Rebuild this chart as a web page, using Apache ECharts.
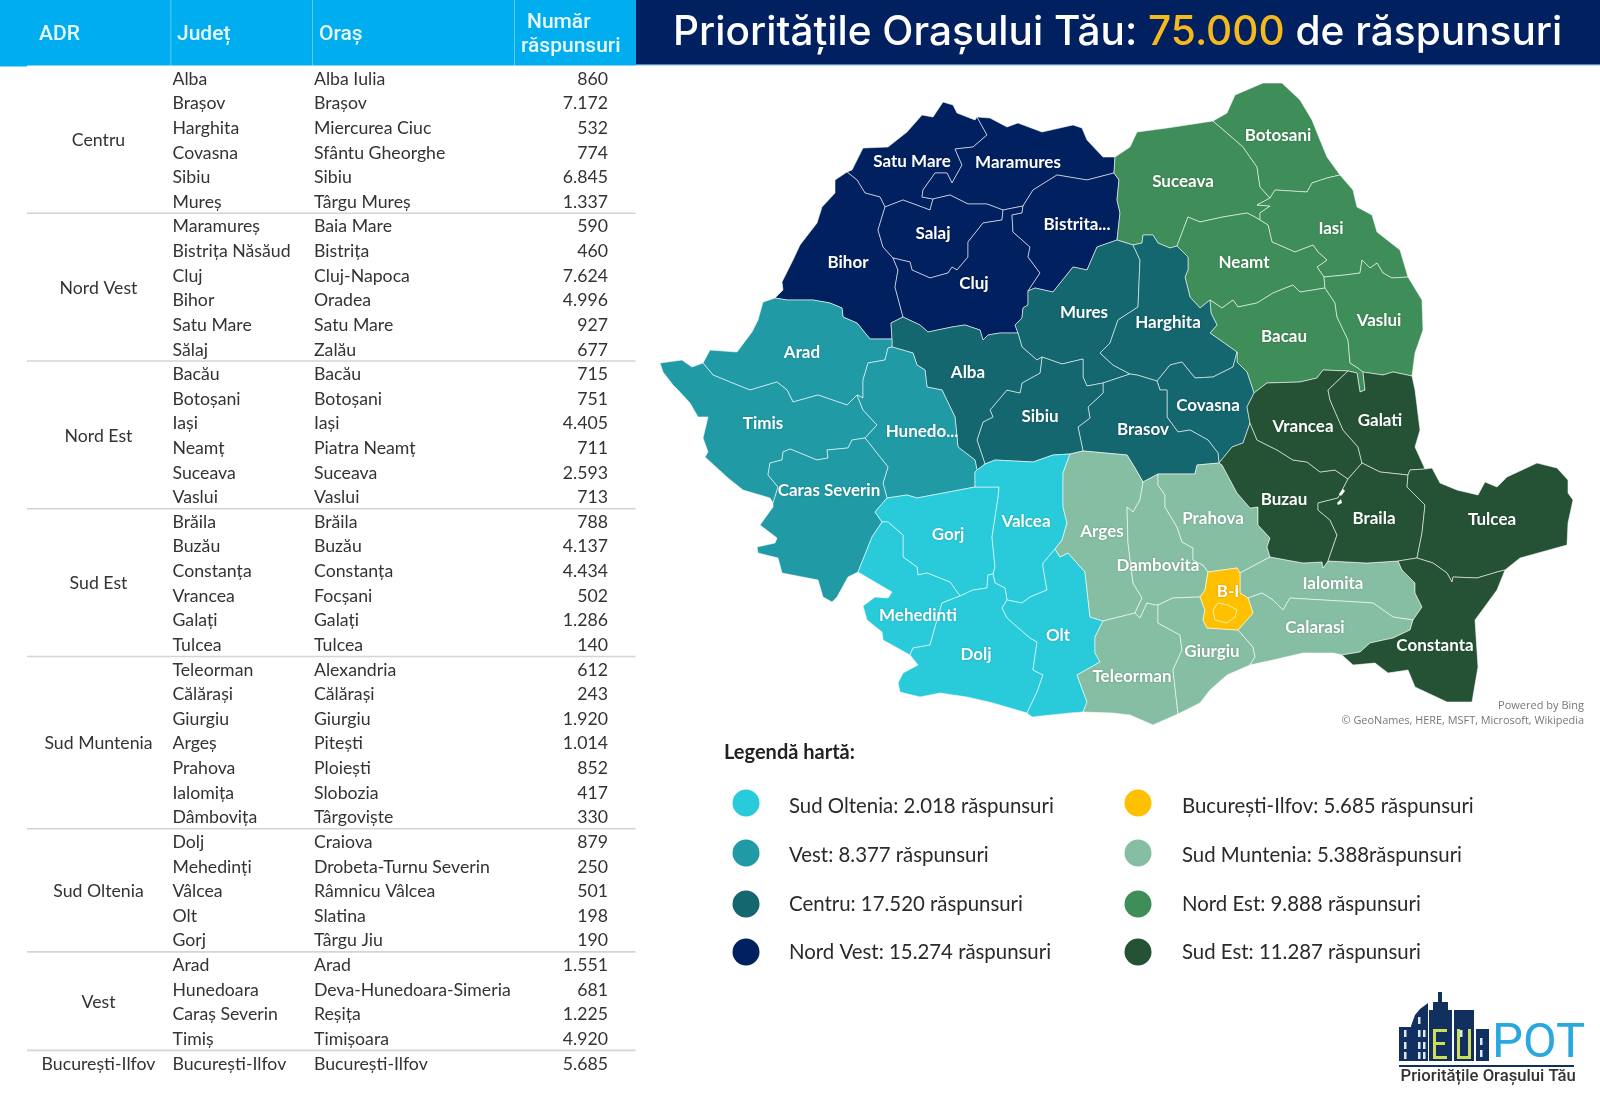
<!DOCTYPE html>
<html><head><meta charset="utf-8">
<style>html,body{margin:0;padding:0;background:#fff}#c{width:1600px;height:1108px}</style>
<script src="https://cdn.jsdelivr.net/npm/echarts@6/dist/echarts.min.js"></script>
</head><body><div id="c"></div>
<script>
// ---------- table data ----------
const adrGroups = ['Centru','Nord Vest','Nord Est','Sud Est','Sud Muntenia','Sud Oltenia','Vest','București-Ilfov'];
const adrRowCounts = [6,6,6,6,7,5,4,1];
const judete = ['Alba','Brașov','Harghita','Covasna','Sibiu','Mureș','Maramureș','Bistrița Năsăud','Cluj','Bihor','Satu Mare','Sălaj','Bacău','Botoșani','Iași','Neamț','Suceava','Vaslui','Brăila','Buzău','Constanța','Vrancea','Galați','Tulcea','Teleorman','Călărași','Giurgiu','Argeș','Prahova','Ialomița','Dâmbovița','Dolj','Mehedinți','Vâlcea','Olt','Gorj','Arad','Hunedoara','Caraș Severin','Timiș','București-Ilfov'];
const orase = ['Alba Iulia','Brașov','Miercurea Ciuc','Sfântu Gheorghe','Sibiu','Târgu Mureș','Baia Mare','Bistrița','Cluj-Napoca','Oradea','Satu Mare','Zalău','Bacău','Botoșani','Iași','Piatra Neamț','Suceava','Vaslui','Brăila','Buzău','Constanța','Focșani','Galați','Tulcea','Alexandria','Călărași','Giurgiu','Pitești','Ploiești','Slobozia','Târgoviște','Craiova','Drobeta-Turnu Severin','Râmnicu Vâlcea','Slatina','Târgu Jiu','Arad','Deva-Hunedoara-Simeria','Reșița','Timișoara','București-Ilfov'];
const raspunsuri = [860,7172,532,774,6845,1337,590,460,7624,4996,927,677,715,751,4405,711,2593,713,788,4137,4434,502,1286,140,612,243,1920,1014,852,417,330,879,250,501,198,190,1551,681,1225,4920,5685];
const headerLabels = ['ADR','Județ','Oraș','Număr','răspunsuri'];
// ---------- legend data ----------
const legendTitle = 'Legendă hartă:';
const legendLabels = ['Sud Oltenia: 2.018 răspunsuri','Vest: 8.377 răspunsuri','Centru: 17.520 răspunsuri','Nord Vest: 15.274 răspunsuri','București-Ilfov: 5.685 răspunsuri','Sud Muntenia: 5.388răspunsuri','Nord Est: 9.888 răspunsuri','Sud Est: 11.287 răspunsuri'];
const legendRegions = ['Sud Oltenia','Vest','Centru','Nord Vest','București-Ilfov','Sud Muntenia','Nord Est','Sud Est'];
const regionColors = {'Sud Oltenia':'#29cbdb','Vest':'#209ba6','Centru':'#14666f','Nord Vest':'#002060','București-Ilfov':'#ffc000','Sud Muntenia':'#86bea3','Nord Est':'#3f8d58','Sud Est':'#255235'};
// ---------- map shapes: shared county borders, in the map's own units ----------
const arcs = {
smO:'847,172 852,170 863,148 888,147 907,132 922,115 933,117 943,102 953,105 957,113 975,120 977,117',
SM_MM:'977,117 987,135 973,147 955,149 962,165 952,183 947,173 935,173 923,190 922,197 933,199',
SM_SJ:'933,199 930,210 903,200 885,207',
SM_BH:'885,207 880,197 865,193 857,180 847,172',
mmO:'977,117 990,118 1007,127 1018,123 1042,132 1073,125 1082,128 1087,140 1103,157 1115,157',
MM_SV:'1115,157 1114,173',
MM_BN:'1114,173 1087,180 1057,175 1033,190 1023,206',
MM_CJ:'1023,206 1003,210',
MM_SJ:'1003,210 987,204 968,204 950,195 933,199',
bhO:'775,298 783,290 782,282 793,260 800,245 817,223 822,207 835,193 835,180 847,172',
BH_SJ:'885,207 878,230 883,247 893,258',
BH_CJ:'893,258 898,270 895,287 903,317',
BH_AB:'903,317 891,323 892,339',
BH_AR:'892,339 870,339 857,323 843,317 842,308 830,303 813,300 787,300 775,298',
SJ_CJ:'893,258 910,262 912,270 930,278 948,273 952,267 957,270 968,257 968,242 983,223 1002,220 1003,210',
CJ_BN:'1023,206 1022,213 1012,215 1013,232 1030,247 1028,257 1040,273 1028,291',
CJ_MS:'1028,291 1028,305 1023,308 1022,318 1015,325 1018,333',
CJ_AB:'1018,333 1000,333 988,335 983,340 980,330 965,325 952,327 928,332 920,325 903,317',
BN_SV:'1114,173 1119,180 1117,200 1120,213 1117,240',
BN_MS:'1117,240 1097,247 1087,270 1073,267 1053,292 1035,288 1028,291',
svO:'1115,157 1130,147 1137,132 1167,128 1213,121',
SV_BT:'1213,121 1227,133 1243,147 1257,167 1260,187 1270,198',
SV_IS:'1270,198 1257,205 1270,206 1260,213 1260,220',
SV_NT:'1260,220 1255,217 1247,213 1223,217 1200,222 1188,217 1177,246',
SV_HR:'1177,246 1170,248 1158,243 1153,235 1143,235 1142,243 1133,245',
SV_MS:'1133,245 1117,240',
MS_HR:'1133,245 1140,260 1138,307 1118,320 1110,343 1100,353 1113,365 1130,374',
MS_BV:'1130,374 1103,383',
MS_SB:'1103,383 1087,386 1083,377 1083,359 1062,364 1042,357',
AB_MS:'1042,357 1037,360 1022,347 1018,333',
HR_NT:'1177,246 1188,257 1188,270 1185,277 1190,297 1200,308 1210,300',
HR_BC:'1210,300 1211,313 1217,325 1210,333 1237,352',
HR_CV:'1237,352 1233,367 1213,377 1195,378 1182,362 1170,365 1157,381',
HR_BV:'1157,381 1137,375 1130,374',
CV_BC:'1237,352 1237,362 1247,372 1254,393',
CV_VN:'1254,393 1247,407 1250,423',
CV_BZ:'1250,423 1243,443 1232,447 1219,463',
CV_BV:'1157,381 1160,390 1167,390 1167,417 1178,432 1190,430 1208,440 1218,453 1219,463',
BV_PH:'1219,463 1197,465 1195,474 1158,474',
BV_DB:'1158,474 1143,482',
BV_AG:'1143,482 1135,468 1127,455 1083,451',
BV_SB:'1083,451 1078,427 1090,418 1088,407 1103,393 1103,383',
SB_AG:'1083,451 1070,454',
SB_VL:'1070,454 1053,455 1033,462 995,460 985,464',
AB_SB:'985,464 977,440 983,422 993,417 990,410 1007,390 1020,393 1022,383 1040,373 1042,357',
AB_VL:'985,464 977,470',
AB_HD:'977,470 975,460 958,447 955,417 942,390 927,387 925,370 917,365 913,353 892,347',
AB_AR:'892,347 892,339',
AR_HD:'892,347 888,348 885,360 868,363 863,380 863,398 857,395',
AR_TM:'857,395 847,405 818,395 793,402 787,390 777,382 750,390 730,382 713,375 703,363',
arO:'703,363 710,350 737,352 752,332 758,320 763,302 775,298',
TM_HD:'857,395 863,410 877,425 865,438',
TM_CS:'865,438 852,440 848,448 827,450 828,458 817,460 790,449 783,452 782,460 770,463 768,475 778,487 773,503',
tmO:'773,503 770,498 743,490 728,478 705,457 708,452 703,438 708,417 698,417 690,403 678,390 673,385 663,372 660,363 682,360 692,367 703,363',
CS_HD:'865,438 888,467 883,483 887,498',
HD_GJ:'887,498 907,495 917,498 975,487',
HD_VL:'975,487 975,472 977,470',
CS_GJ:'887,498 875,512 882,522',
CS_MH:'882,522 872,537 858,572',
csO:'858,572 848,577 837,597 832,602 823,597 818,580 782,573 778,558 758,553 757,547 775,543 777,538 760,525 773,507 773,503',
GJ_MH:'882,522 888,522 903,535 903,557 917,567 918,575 927,573 950,582 960,596',
GJ_DJ:'960,596 973,590 987,588 988,575 993,574',
GJ_VL:'975,487 999,487 998,498 992,537 995,567 993,574',
VL_DJ:'993,574 995,583 1005,588 1007,600',
VL_OT:'1007,600 1022,603 1030,597 1047,590 1043,567 1043,563 1055,549',
VL_AG:'1070,454 1063,473 1063,507 1067,523 1062,540 1055,549',
OT_AG:'1055,549 1060,557 1068,553 1085,572 1090,617 1103,621',
DJ_OT:'1007,600 1002,608 1007,618 1030,638 1037,642 1033,670 1043,675 1037,692 1027,713',
OT_TR:'1103,621 1095,637 1095,653 1100,662 1077,675 1087,702 1083,712',
otO:'1083,712 1070,713 1032,717 1027,713',
djO:'1027,713 993,703 967,697 940,693 920,697 900,692 898,683 903,673 918,665 910,655',
DJ_MH:'960,596 942,603 937,620 930,645 913,648 910,655',
mhO:'910,655 883,640 882,632 867,620 863,606 875,597 888,598 892,592 880,585 858,572',
AG_TR:'1103,621 1135,613',
AG_DB:'1143,482 1140,500 1133,512 1127,507 1128,543 1133,583 1142,598 1135,613',
DB_TR:'1135,613 1140,618 1147,603 1155,605 1158,605',
DB_GR:'1158,605 1173,598 1200,597',
TR_GR:'1158,605 1158,623 1180,635 1182,650 1173,670 1178,714',
trO:'1178,714 1153,725 1130,715 1112,713 1083,712',
grO:'1178,714 1200,703 1210,690 1227,675 1250,665',
PH_DB:'1158,474 1158,485 1165,495 1165,507 1177,527 1182,542 1193,548 1193,560 1203,565 1208,572',
BI_DB:'1208,572 1207,578 1205,590 1200,597',
BI_GR:'1200,597 1205,610 1203,620 1207,628 1238,630',
BI_CL:'1238,630 1253,613 1248,598',
BI_IL:'1248,598 1240,593 1240,577 1240,573',
BI_PH:'1240,573 1237,568 1208,572',
PH_IL:'1240,573 1270,557',
PH_BZ:'1270,557 1267,547 1270,538 1258,525 1258,507 1250,508 1237,493 1222,465 1219,463',
GR_CL:'1238,630 1253,647 1255,657 1250,665',
IL_CL:'1248,598 1262,593 1273,600 1283,610 1290,598 1323,600 1357,602 1373,603 1393,617 1413,620',
BZ_IL:'1270,557 1303,563 1322,562 1323,568 1328,561',
BR_IL:'1328,561 1367,563 1398,561',
IL_CT:'1398,561 1402,570 1415,583 1415,593 1422,607 1413,620',
CL_CT:'1413,620 1410,630 1393,638 1370,643 1360,652 1342,655',
clO:'1342,655 1333,653 1303,653 1273,660 1250,665',
BZ_BR:'1328,561 1337,535 1330,520 1318,510 1318,503 1338,498 1348,479',
VN_BZ:'1250,423 1257,440 1277,450 1293,460 1307,462 1320,472 1335,470 1348,479',
VN_BR:'1348,479 1362,463',
VN_GL:'1362,463 1358,447 1343,430 1330,400 1328,390 1348,371',
BC_VN:'1254,393 1267,383 1300,382 1317,378 1323,370 1348,371',
BC_GL:'1348,371 1357,373 1360,392 1365,390 1363,372',
BC_VS:'1363,372 1358,368 1350,363 1348,340 1337,317 1335,303 1325,288',
VS_GL:'1363,372 1383,375 1393,372 1412,376',
glO:'1412,376 1415,390 1420,430 1415,447 1425,469',
GL_TL:'1425,469 1410,470 1408,475',
GL_BR:'1408,475 1380,472 1362,463',
BR_TL:'1408,475 1407,487 1425,505 1422,533 1417,558',
BR_CT:'1417,558 1398,561',
CT_TL:'1417,558 1433,563 1447,573 1452,582 1453,577 1477,578 1497,572 1505,570',
tlO:'1505,570 1520,558 1567,545 1568,523 1573,500 1568,493 1568,480 1557,468 1537,463 1507,477 1497,487 1485,482 1478,495 1457,490 1440,483 1432,468 1425,469',
ctO:'1505,570 1497,590 1475,620 1478,667 1472,702 1447,702 1415,687 1408,670 1388,673 1375,663 1353,665 1342,655',
btO:'1213,121 1227,113 1235,95 1263,83 1282,83 1300,100 1312,120 1320,140 1327,157 1340,175',
BT_IS:'1340,175 1327,178 1312,183 1307,192 1275,190 1270,198',
isO:'1340,175 1353,190 1357,207 1372,215 1377,232 1400,250 1408,277',
IS_VS:'1408,277 1392,278 1383,273 1377,263 1370,268 1362,260 1360,273 1345,275 1324,277',
NT_IS:'1324,277 1317,267 1327,260 1318,252 1313,245 1295,252 1272,242 1268,225 1260,220',
NT_VS:'1324,277 1325,288',
NT_BC:'1325,288 1313,290 1300,292 1293,285 1273,293 1257,303 1238,307 1233,300 1222,308 1210,300',
vsO:'1408,277 1422,300 1423,330 1415,353 1412,376'
};
const countyNames = ['Satu Mare','Maramures','Bihor','Salaj','Cluj','Bistrita...','Suceava','Botosani','Iasi','Neamt','Bacau','Vaslui','Mures','Harghita','Covasna','Brasov','Sibiu','Alba','Arad','Timis','Hunedo...','Caras Severin','Gorj','Valcea','Mehedinti','Dolj','Olt','Arges','Dambovita','Prahova','Teleorman','Giurgiu','Ialomita','Calarasi','Buzau','Vrancea','Galati','Braila','Tulcea','Constanta','B-I'];
const countyRegions = ['Nord Vest','Nord Vest','Nord Vest','Nord Vest','Nord Vest','Nord Vest','Nord Est','Nord Est','Nord Est','Nord Est','Nord Est','Nord Est','Centru','Centru','Centru','Centru','Centru','Centru','Vest','Vest','Vest','Vest','Sud Oltenia','Sud Oltenia','Sud Oltenia','Sud Oltenia','Sud Oltenia','Sud Muntenia','Sud Muntenia','Sud Muntenia','Sud Muntenia','Sud Muntenia','Sud Muntenia','Sud Muntenia','Sud Est','Sud Est','Sud Est','Sud Est','Sud Est','Sud Est','București-Ilfov'];
const countyTableRows = ['Satu Mare','Maramureș','Bihor','Sălaj','Cluj','Bistrița Năsăud','Suceava','Botoșani','Iași','Neamț','Bacău','Vaslui','Mureș','Harghita','Covasna','Brașov','Sibiu','Alba','Arad','Timiș','Hunedoara','Caraș Severin','Gorj','Vâlcea','Mehedinți','Dolj','Olt','Argeș','Dâmbovița','Prahova','Teleorman','Giurgiu','Ialomița','Călărași','Buzău','Vrancea','Galați','Brăila','Tulcea','Constanța','București-Ilfov'];
const countyRings = ['smO SM_MM SM_SJ SM_BH','mmO MM_SV MM_BN MM_CJ MM_SJ SM_MM','bhO SM_BH BH_SJ BH_CJ BH_AB BH_AR','SM_SJ MM_SJ SJ_CJ BH_SJ','SJ_CJ MM_CJ CJ_BN CJ_MS CJ_AB BH_CJ','MM_BN BN_SV BN_MS CJ_BN','svO SV_BT SV_IS SV_NT SV_HR SV_MS BN_SV MM_SV','btO BT_IS SV_BT','BT_IS isO IS_VS NT_IS SV_IS','SV_NT NT_IS NT_VS NT_BC HR_NT','NT_BC BC_VS BC_GL BC_VN CV_BC HR_BC','IS_VS vsO VS_GL BC_VS NT_VS','BN_MS SV_MS MS_HR MS_BV MS_SB AB_MS CJ_MS','SV_HR HR_NT HR_BC HR_CV HR_BV MS_HR','HR_CV CV_BC CV_VN CV_BZ CV_BV','MS_BV HR_BV CV_BV BV_PH BV_DB BV_AG BV_SB','MS_SB BV_SB SB_AG SB_VL AB_SB','CJ_AB AB_MS AB_SB AB_VL AB_HD AB_AR BH_AB','arO BH_AR AB_AR AR_HD AR_TM','AR_TM TM_HD TM_CS tmO','AB_HD HD_VL HD_GJ CS_HD TM_HD AR_HD','TM_CS CS_HD CS_GJ CS_MH csO','HD_GJ GJ_VL GJ_DJ GJ_MH CS_GJ','AB_VL SB_VL VL_AG VL_OT VL_DJ GJ_VL HD_VL','CS_MH GJ_MH DJ_MH mhO','GJ_DJ VL_DJ DJ_OT djO DJ_MH','VL_OT OT_AG OT_TR otO DJ_OT','SB_AG BV_AG AG_DB AG_TR OT_AG VL_AG','BV_DB PH_DB BI_DB DB_GR DB_TR AG_DB','BV_PH PH_BZ PH_IL BI_PH PH_DB','AG_TR DB_TR TR_GR trO OT_TR','DB_GR BI_GR GR_CL grO TR_GR','PH_IL BZ_IL BR_IL IL_CT IL_CL BI_IL','BI_CL IL_CL CL_CT clO GR_CL','VN_BZ BZ_BR BZ_IL PH_BZ CV_BZ','BC_VN VN_GL VN_BR VN_BZ CV_VN','VS_GL glO GL_TL GL_BR VN_GL BC_GL','VN_BR GL_BR BR_TL BR_CT BR_IL BZ_BR','tlO GL_TL BR_TL CT_TL','BR_CT CT_TL ctO CL_CT IL_CT','BI_PH BI_IL BI_CL BI_GR BI_DB'];
const labelAnchors = [[912,162],[1018,163],[848,263],[933,234],[974,284],[1077,225],[1183,182],[1278,136],[1331,229],[1244,263],[1284,337],[1379,321],[1084,313],[1168,323],[1208,406],[1143,430],[1040,417],[968,373],[802,353],[763,424],[922,432],[829,491],[948,535],[1026,522],[918,616],[976,655],[1058,636],[1102,532],[1158,566],[1213,519],[1132,677],[1212,652],[1333,584],[1315,628],[1284,500],[1303,427],[1380,421],[1374,519],[1492,520],[1435,646],[1228,592]];
const bucharestRing = '1213,610 1218,603 1228,605 1237,610 1235,617 1227,623 1215,620 1213,610';
const danubeIslands = ['1337,503 1341,499 1342,503 1338,505','1339,494 1343,489 1345,491 1341,496'];

// ---------- build geometry ----------
const parseArc = s => s.split(' ').map(p => p.split(',').map(Number));
const parsedArcs = {}; Object.keys(arcs).forEach(k => parsedArcs[k] = parseArc(arcs[k]));
const same = (a,b) => a[0]===b[0] && a[1]===b[1];
function ringOf(names){
  const list = names.split(' ').map(n => { if(!parsedArcs[n]) console.error('missing arc '+n); return parsedArcs[n]; });
  let out = [];
  list.forEach((a,i) => {
    let pts = a;
    if(i===0){
      const nx = list[1];
      if(!(same(a[a.length-1],nx[0]) || same(a[a.length-1],nx[nx.length-1]))) pts = a.slice().reverse();
    } else {
      const end = out[out.length-1];
      if(same(a[a.length-1],end)) pts = a.slice().reverse();
      else if(!same(a[0],end)) console.error('ring gap '+names+' at '+i);
    }
    out = out.concat(i===0 ? pts : pts.slice(1));
  });
  return out.map(p => [p[0],-p[1]]);
}
const features = countyNames.map((n,i) => ({type:'Feature',properties:{name:n,cp:[labelAnchors[i][0],-labelAnchors[i][1]]},geometry:{type:'Polygon',coordinates:[ringOf(countyRings[i])]}}));
features.push({type:'Feature',properties:{name:'București',cp:[1226,-612]},geometry:{type:'Polygon',coordinates:[parseArc(bucharestRing).map(p=>[p[0],-p[1]])]}});
echarts.registerMap('ro',{type:'FeatureCollection',features});

const mapData = countyNames.map((n,i) => ({name:n,value:raspunsuri[judete.indexOf(countyTableRows[i])],itemStyle:{areaColor:regionColors[countyRegions[i]]}}));
mapData.push({name:'București',value:0,itemStyle:{areaColor:regionColors['București-Ilfov'],borderColor:'rgba(255,255,255,0.75)'},label:{show:false}});

// ---------- page furniture ----------
const T = (x,y,text,font,fill,align,extra) => Object.assign({type:'text',silent:true,z:5,style:{x,y,text,font,fill:fill||'#222',textAlign:align||'left',textVerticalAlign:'middle'}},extra||{});
const R = (x,y,w,h,fill,z) => ({type:'rect',silent:true,z:z||1,shape:{x,y,width:w,height:h},style:{fill}});
const g = [];
g.push(R(0,0,636,65.5,'#00aeef'));
g.push(R(0,65,27,1.5,'#00aeef'));
g.push(R(636,0,964,65,'#002060'));
g.push(R(636,64.5,964,1.5,'#bfe3f7'));
[170.5,312,514].forEach(x => g.push(R(x,0,0.8,65,'rgba(255,255,255,0.45)',2)));
const HF = '500 21px Roboto, sans-serif';
g.push(T(39,34.5,headerLabels[0],HF,'#e8f8ff'));
g.push(T(177,34.5,headerLabels[1],HF,'#e8f8ff'));
g.push(T(319,34.5,headerLabels[2],HF,'#e8f8ff'));
g.push(T(527,22.5,headerLabels[3],HF,'#e8f8ff'));
g.push(T(521,47,headerLabels[4],HF,'#e8f8ff'));
const CF = '17.7px Lato, sans-serif';
const ROW0 = 79, STEP = 24.62;
judete.forEach((j,i) => {
  const y = ROW0 + STEP*i;
  g.push(T(172.5,y,j,CF,'#333'));
  g.push(T(314,y,orase[i],CF,'#333'));
  g.push(T(608,y,raspunsuri[i].toLocaleString('de-DE'),CF,'#333','right'));
});
let startRow = 0;
adrGroups.forEach((name,k) => {
  const n = adrRowCounts[k];
  g.push(T(98.5,ROW0 + STEP*(startRow + (n-1)/2),name,CF,'#333','center'));
  startRow += n;
  if(k < adrGroups.length-1) g.push(R(27,ROW0 + STEP*(startRow-1) + 10.4,608.5,1.6,'#d4d4d4'));
});
// legend
g.push(T(724,753,legendTitle,'700 20px Lato, sans-serif','#222'));
const legendCircleY = [803,853,904,952];
const legendTextY = [806,855,904,952];
legendLabels.forEach((s,i) => {
  const col = i<4 ? 0 : 1, row = i%4;
  g.push({type:'circle',silent:true,z:3,shape:{cx:col?1138:746,cy:legendCircleY[row],r:13.5},style:{fill:regionColors[legendRegions[i]]}});
  g.push(T(col?1182:789,legendTextY[row],s,'400 20.4px Lato, sans-serif','#2a2a2a'));
});
// small Danube islands left white on the map
danubeIslands.forEach(s => g.push({type:'polygon',silent:true,z:4,shape:{points:parseArc(s)},style:{fill:'#fff'}}));
// attribution
g.push(T(1584,706,'Powered by Bing','11px "Open Sans", sans-serif','#777','right'));
g.push(T(1584,721,'© GeoNames, HERE, MSFT, Microsoft, Wikipedia','10.9px "Open Sans", sans-serif','#777','right'));
// logo
const NAVY='#12305f';
g.push(R(1399,1027,12,34,NAVY,3));
g.push({type:'polygon',silent:true,z:3,shape:{points:[[1411,1061],[1411,1026],[1415,1015],[1420,1009],[1428,1003],[1428,1061]]},style:{fill:NAVY}});
g.push(R(1429,1010,23,51,NAVY,3));g.push(R(1433,1002,15,10,NAVY,3));g.push(R(1438,992,4,12,NAVY,3));
g.push(R(1454,1010,20,51,NAVY,3));g.push(R(1476,1029,13,32,NAVY,3));
[[1404,1030],[1418,1030],[1423,1030],[1418,1017],[1460,1030],[1480,1038],[1404,1042],[1418,1042],[1423,1042],[1480,1050],[1404,1052],[1418,1052],[1423,1052]].forEach(p=>g.push(R(p[0],p[1],2.5,7,'#dfe7f2',4)));
g.push(R(1433,1029,14,3,'#cfdc5a',4));g.push(R(1433,1029,3,30,'#cfdc5a',4));g.push(R(1433,1042,12,3,'#cfdc5a',4));g.push(R(1433,1056,14,3,'#cfdc5a',4));
g.push(R(1457,1029,3,30,'#cfdc5a',4));g.push(R(1468,1029,3,30,'#cfdc5a',4));g.push(R(1457,1056,14,3,'#cfdc5a',4));
g.push(T(1492,1045,'POT','400 49px Roboto, sans-serif','#29a8e0'));
g.push(R(1399,1065,175,2,NAVY,3));
g.push(T(1400.5,1077,'Prioritățile Orașului Tău','500 16.7px Roboto, sans-serif','#333'));

const option = {
  animation:false,
  backgroundColor:'#fff',
  title:{left:673,top:12,padding:0,text:'{w|Prioritățile Orașului Tău: }{y|75.000}{w| de răspunsuri}',z:10,
    textStyle:{rich:{
      w:{fontFamily:'Inter',fontWeight:500,fontSize:40.6,color:'#fff'},
      y:{fontFamily:'Inter',fontWeight:500,fontSize:40.6,color:'#f5b91e'}}}},
  series:[{type:'map',map:'ro',roam:false,silent:true,aspectScale:1,
    boundingCoords:[[0,0],[1600,-1108]],left:0,top:0,width:1600,height:1108,
    selectedMode:false,
    itemStyle:{borderColor:'rgba(255,255,255,0.62)',borderWidth:0.9},
    emphasis:{disabled:true},
    label:{show:true,color:'#fff',fontFamily:'Lato',fontWeight:700,fontSize:17,textShadowColor:'rgba(0,0,0,0.25)',textShadowBlur:2},
    data:mapData}],
  graphic:g
};
echarts.init(document.getElementById('c'),null,{renderer:'canvas'}).setOption(option);
</script></body></html>
